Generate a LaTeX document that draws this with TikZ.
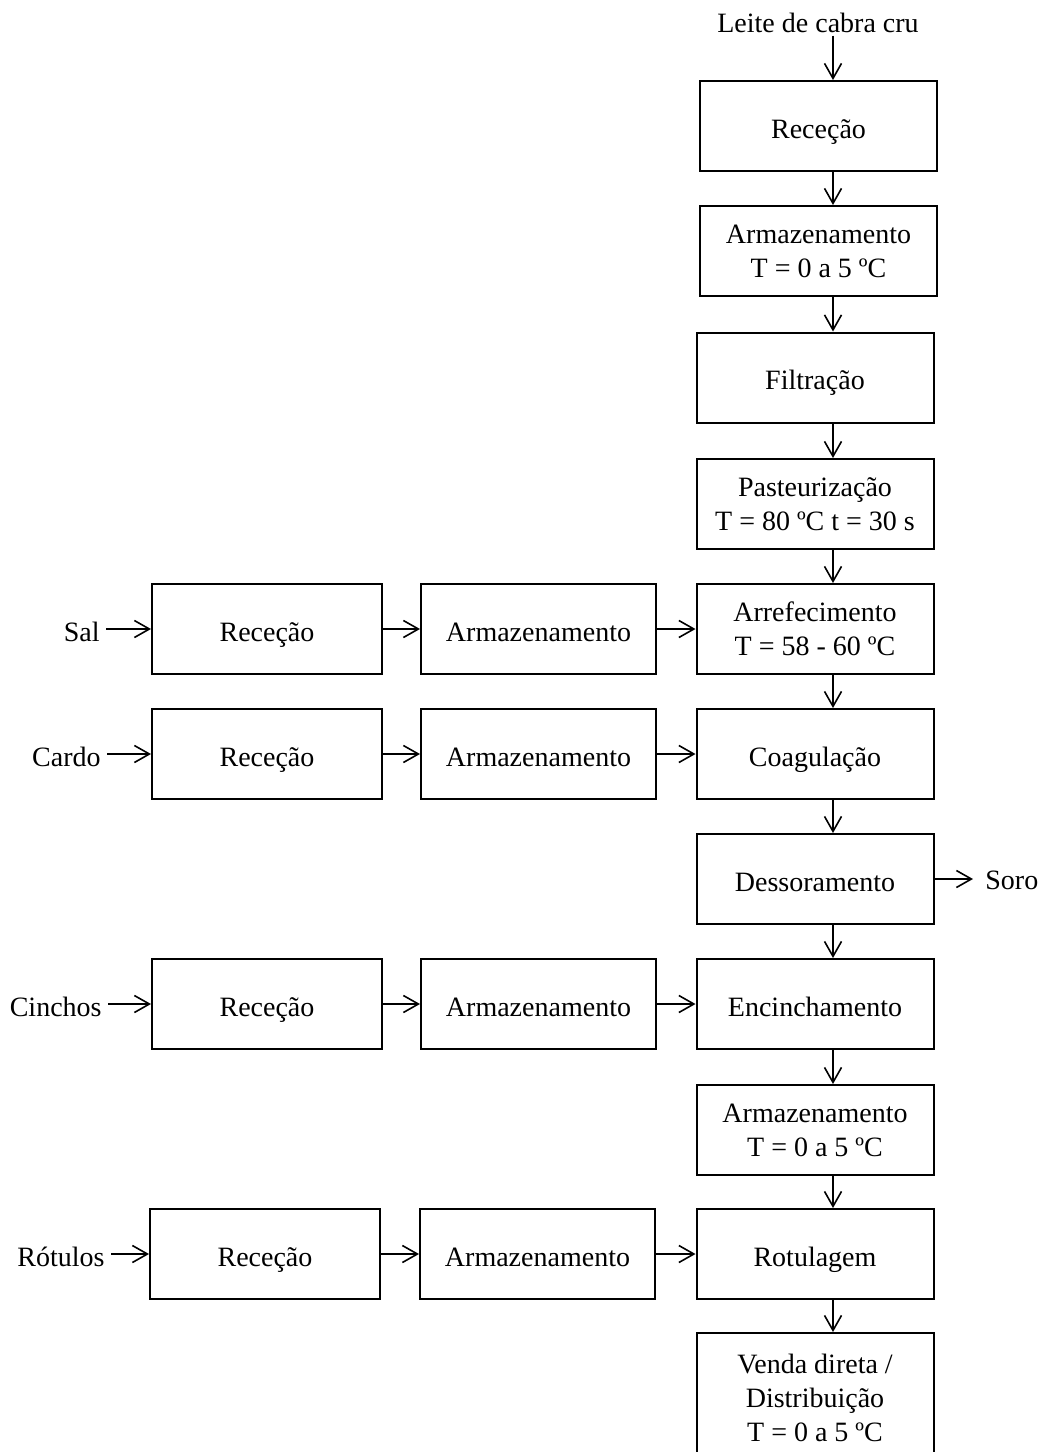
\documentclass[tikz,border=0pt]{standalone}
\usepackage{fontspec}
\setmainfont{Liberation Serif}
\usetikzlibrary{arrows.meta}
\tikzset{etapa/.style={draw, line width=1pt, minimum width=#1, minimum height=45pt, inner sep=0pt, align=center, font=\fontsize{14}{17}\selectfont},
  etapa/.default=118.5pt,
  linha/.style={text height=12pt, text depth=0pt},
  rotulo/.style={inner sep=1.5pt, font=\fontsize{14}{17}\selectfont},
  entrada/.style={rotulo, linha, inner xsep=3pt, anchor=east},
  seta/.style={-{Straight Barb[length=7.5pt,width=8.5pt]}, line width=0.8pt}}

\begin{document}
\begin{tikzpicture}[x=0.5pt, y=-0.5pt]
	\useasboundingbox (0,0) rectangle (1042,1452);
	\clip (0,0) rectangle (1042,1452);
	% eixo das setas verticais
	\coordinate (eixo) at (833,0);
	% linha principal
	\node[rotulo, anchor=base] (leite) at (818,32) {Leite de cabra cru};
	\node[etapa, linha] (rec) at (818.5,126) {Receção};
	\node[etapa] (arm) at (818.5,251) {Armazenamento\\T = 0 a 5 ºC};
	\node[etapa, linha] (filt) at (815,377.5) {Filtração};
	\node[etapa] (past) at (815,504) {Pasteurização\\T = 80 ºC t = 30 s};
	\node[etapa] (arref) at (815,629) {Arrefecimento\\T = 58 - 60 ºC};
	\node[etapa, linha] (coag) at (815,754) {Coagulação};
	\node[etapa, linha] (dess) at (815,879) {Dessoramento};
	\node[etapa, linha] (encin) at (815,1004) {Encinchamento};
	\node[etapa] (armq) at (815,1130) {Armazenamento\\T = 0 a 5 ºC};
	\node[etapa, linha] (rotul) at (815,1254) {Rotulagem};
	\node[etapa, minimum height=65pt] (venda) at (815,1398) {Venda direta /\\Distribuição\\T = 0 a 5 ºC};
	\node[rotulo, inner xsep=6pt, anchor=west] (soro) at (973,880) {Soro};
	% setas verticais
	\draw[seta] (leite.south -| eixo) -- (rec.north -| eixo);
	\draw[seta] (rec.south -| eixo) -- (arm.north -| eixo);
	\draw[seta] (arm.south -| eixo) -- (filt.north -| eixo);
	\draw[seta] (filt.south -| eixo) -- (past.north -| eixo);
	\draw[seta] (past.south -| eixo) -- (arref.north -| eixo);
	\draw[seta] (arref.south -| eixo) -- (coag.north -| eixo);
	\draw[seta] (coag.south -| eixo) -- (dess.north -| eixo);
	\draw[seta] (dess.south -| eixo) -- (encin.north -| eixo);
	\draw[seta] (encin.south -| eixo) -- (armq.north -| eixo);
	\draw[seta] (armq.south -| eixo) -- (rotul.north -| eixo);
	\draw[seta] (rotul.south -| eixo) -- (venda.north -| eixo);
	\draw[seta] (dess.east) -- (dess.east -| soro.west);
	% sal
	\node[entrada] (sal) at (106,629) {Sal};
	\node[etapa=115pt, linha] (salrec) at (267,629) {Receção};
	\node[etapa=117.5pt, linha] (salarm) at (538.5,629) {Armazenamento};
	\draw[seta] (sal.east) -- (salrec.west);
	\draw[seta] (salrec.east) -- (salarm.west);
	\draw[seta] (salarm.east) -- (arref.west);
	% cardo
	\node[entrada] (cardo) at (107,754) {Cardo};
	\node[etapa=115pt, linha] (cardorec) at (267,754) {Receção};
	\node[etapa=117.5pt, linha] (cardoarm) at (538.5,754) {Armazenamento};
	\draw[seta] (cardo.east) -- (cardorec.west);
	\draw[seta] (cardorec.east) -- (cardoarm.west);
	\draw[seta] (cardoarm.east) -- (coag.west);
	% cinchos
	\node[entrada] (cinchos) at (108,1004) {Cinchos};
	\node[etapa=115pt, linha] (cinrec) at (267,1004) {Receção};
	\node[etapa=117.5pt, linha] (cinarm) at (538.5,1004) {Armazenamento};
	\draw[seta] (cinchos.east) -- (cinrec.west);
	\draw[seta] (cinrec.east) -- (cinarm.west);
	\draw[seta] (cinarm.east) -- (encin.west);
	% rotulos
	\node[entrada] (rotulos) at (111,1254) {Rótulos};
	\node[etapa=115pt, linha] (rotrec) at (265,1254) {Receção};
	\node[etapa=117.5pt, linha] (rotarm) at (537.5,1254) {Armazenamento};
	\draw[seta] (rotulos.east) -- (rotrec.west);
	\draw[seta] (rotrec.east) -- (rotarm.west);
	\draw[seta] (rotarm.east) -- (rotul.west);
\end{tikzpicture}
\end{document}
